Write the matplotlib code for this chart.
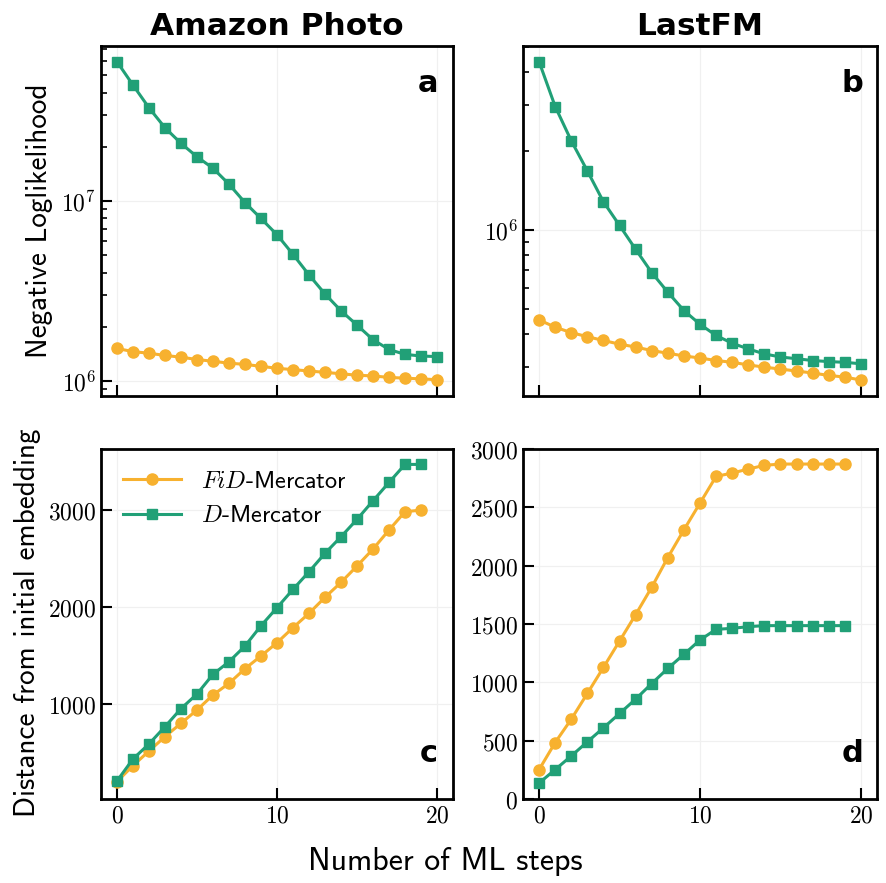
import numpy as np
import matplotlib
matplotlib.use('Agg')
import matplotlib.pyplot as plt
from matplotlib.ticker import FuncFormatter, NullFormatter, LogLocator

plt.rcParams['mathtext.fontset'] = 'cm'
plt.rcParams['axes.formatter.use_mathtext'] = True

ORANGE = '#F7B12F'
GREEN = '#21A077'

steps21 = list(range(21))
steps20 = list(range(20))

# negative loglikelihood, Amazon Photo
nll_amazon_fid = [1.52e6, 1.46e6, 1.43e6, 1.39e6, 1.36e6, 1.32e6, 1.29e6, 1.26e6, 1.24e6, 1.21e6,
                  1.18e6, 1.16e6, 1.14e6, 1.12e6, 1.10e6, 1.08e6, 1.07e6, 1.05e6, 1.04e6, 1.03e6, 1.02e6]
nll_amazon_d = [5.93e7, 4.40e7, 3.29e7, 2.55e7, 2.09e7, 1.76e7, 1.52e7, 1.24e7, 9.8e6, 8.0e6,
                6.5e6, 5.06e6, 3.89e6, 3.05e6, 2.46e6, 2.05e6, 1.70e6, 1.50e6, 1.41e6, 1.38e6, 1.37e6]

# negative loglikelihood, LastFM
nll_lastfm_fid = [4.53e5, 4.25e5, 4.05e5, 3.91e5, 3.78e5, 3.66e5, 3.57e5, 3.46e5, 3.38e5, 3.30e5,
                  3.24e5, 3.17e5, 3.12e5, 3.05e5, 2.99e5, 2.94e5, 2.89e5, 2.84e5, 2.78e5, 2.74e5, 2.67e5]
nll_lastfm_d = [4.39e6, 2.96e6, 2.19e6, 1.68e6, 1.28e6, 1.04e6, 8.43e5, 6.87e5, 5.78e5, 4.92e5,
                4.36e5, 3.95e5, 3.69e5, 3.51e5, 3.36e5, 3.27e5, 3.22e5, 3.17e5, 3.14e5, 3.12e5, 3.08e5]

# distance from initial embedding, Amazon Photo
dist_amazon_fid = [200, 364, 515, 663, 801, 938, 1093, 1213, 1364, 1495,
                   1632, 1787, 1935, 2100, 2254, 2423, 2598, 2794, 2983, 3000]
dist_amazon_d = [206, 433, 588, 766, 952, 1103, 1306, 1436, 1598, 1807,
                 1993, 2182, 2364, 2554, 2725, 2904, 3096, 3285, 3471, 3471]

# distance from initial embedding, LastFM
dist_lastfm_fid = [252, 484, 684, 905, 1128, 1354, 1580, 1815, 2070, 2307,
                   2536, 2765, 2794, 2828, 2860, 2871, 2871, 2871, 2871, 2871]
dist_lastfm_d = [137, 252, 369, 490, 610, 733, 856, 990, 1119, 1240,
                 1363, 1454, 1463, 1477, 1486, 1486, 1486, 1486, 1486, 1486]

fig = plt.figure(figsize=(8.87, 8.83), dpi=100)
W, H = 887.0, 883.0

def add_ax(l, t, r, b):
    return fig.add_axes([l / W, 1 - b / H, (r - l) / W, (b - t) / H])

ax_a = add_ax(101, 46, 453, 396)
ax_b = add_ax(523, 46, 877, 396)
ax_c = add_ax(101, 449, 453, 799)
ax_d = add_ax(523, 449, 877, 799)

def plot_pair(ax, x, fid, d):
    ax.plot(x, fid, color=ORANGE, marker='o', ms=8, lw=2.2, label='$FiD$-Mercator')
    ax.plot(x, d, color=GREEN, marker='s', ms=7.5, lw=2.2, label='$D$-Mercator')

plot_pair(ax_a, steps21, nll_amazon_fid, nll_amazon_d)
plot_pair(ax_b, steps21, nll_lastfm_fid, nll_lastfm_d)
plot_pair(ax_c, steps20, dist_amazon_fid, dist_amazon_d)
plot_pair(ax_d, steps20, dist_lastfm_fid, dist_lastfm_d)

logfmt = FuncFormatter(lambda v, p: r'$10^{%d}$' % int(round(np.log10(v))))
linfmt = FuncFormatter(lambda v, p: r'$%d$' % int(v))

for ax in [ax_a, ax_b]:
    ax.set_yscale('log')
    ax.yaxis.set_major_locator(LogLocator(base=10))
    ax.yaxis.set_minor_locator(LogLocator(base=10, subs=np.arange(2, 10)))
    ax.yaxis.set_major_formatter(logfmt)
    ax.yaxis.set_minor_formatter(NullFormatter())
    ax.set_xticklabels([])

ax_a.set_ylim(8.28e5, 7.25e7)
ax_b.set_ylim(2.32e5, 5.04e6)
ax_c.set_ylim(20, 3630)
ax_c.set_yticks([1000, 2000, 3000])
ax_d.set_ylim(0, 3000)
ax_d.set_yticks([0, 500, 1000, 1500, 2000, 2500, 3000])

for ax in [ax_a, ax_b, ax_c, ax_d]:
    ax.set_xlim(-1, 21)
    ax.set_xticks([0, 10, 20])
    if ax in (ax_c, ax_d):
        ax.xaxis.set_major_formatter(linfmt)
        ax.yaxis.set_major_formatter(linfmt)
    ax.tick_params(which='major', direction='in', length=8, width=1.5, labelsize=17)
    ax.tick_params(which='minor', direction='in', length=4.5, width=1.2)
    for s in ax.spines.values():
        s.set_linewidth(2)
    ax.grid(True, which='major', color='#f0f0f0', lw=0.9)
    ax.set_axisbelow(True)

ax_a.set_title('Amazon Photo', fontsize=22.5, fontweight='bold', pad=8)
ax_b.set_title('LastFM', fontsize=22.5, fontweight='bold', pad=8)

for ax, letter, y in [(ax_a, 'a', 0.893), (ax_b, 'b', 0.893), (ax_c, 'c', 0.13), (ax_d, 'd', 0.13)]:
    ax.text(0.93, y, letter, transform=ax.transAxes, ha='center', va='center',
            fontsize=22, fontweight='bold')

# axis labels placed in figure pixels
fig.text(40 / W, 1 - 221 / H, 'Negative Loglikelihood', rotation=90, ha='center', va='center',
         fontsize=21, family='cmss10')
fig.text(28 / W, 1 - 623 / H, 'Distance from initial embedding', rotation=90, ha='center', va='center',
         fontsize=21, family='cmss10')
fig.text(445 / W, 1 - 862 / H, 'Number of ML steps', ha='center', va='center', fontsize=23, family='cmss10')

ax_c.legend(loc='upper left', frameon=False, prop={'family': 'cmss10', 'size': 17.5},
            handlelength=2.4, borderaxespad=0.5, labelspacing=0.5)

fig.savefig('out.png', dpi=100)
